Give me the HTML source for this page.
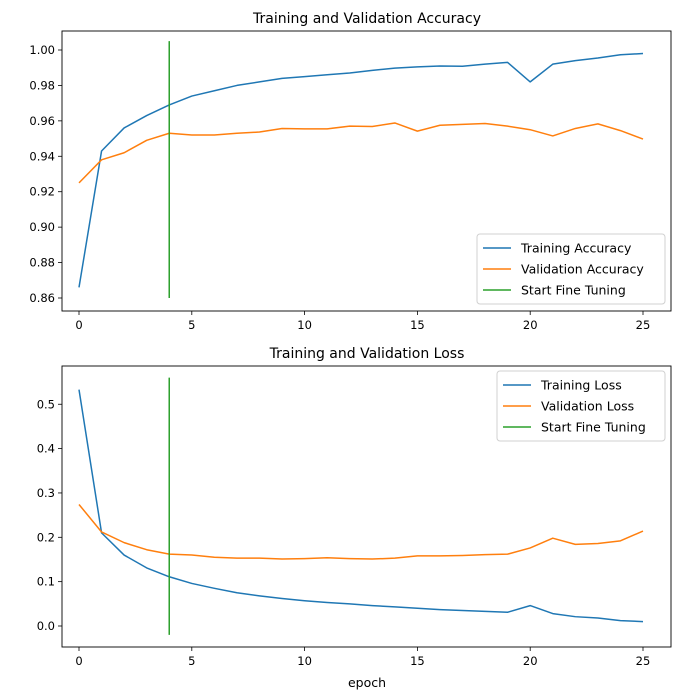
<!DOCTYPE html>
<html><head><meta charset="utf-8"><style>
body{margin:0;background:#fff;}
svg{display:block;font-family:"DejaVu Sans","Liberation Sans",sans-serif;}
</style></head><body>
<svg id="fig" width="680" height="699" viewBox="0 0 680 699"></svg>
<script>
const epochs = [0,1,2,3,4,5,6,7,8,9,10,11,12,13,14,15,16,17,18,19,20,21,22,23,24,25];
const trainAcc = [0.866,0.943,0.956,0.963,0.969,0.974,0.977,0.980,0.982,0.984,0.985,0.986,0.987,0.9885,0.9898,0.9905,0.991,0.9908,0.992,0.993,0.982,0.992,0.994,0.9955,0.9973,0.998];
const valAcc = [0.925,0.938,0.942,0.949,0.953,0.952,0.952,0.953,0.9537,0.9557,0.9555,0.9555,0.957,0.9568,0.9588,0.9542,0.9575,0.958,0.9585,0.957,0.955,0.9515,0.9557,0.9583,0.9545,0.9497];
const trainLoss = [0.533,0.210,0.160,0.131,0.111,0.096,0.085,0.075,0.068,0.062,0.057,0.053,0.050,0.046,0.043,0.040,0.037,0.035,0.033,0.031,0.046,0.028,0.021,0.018,0.012,0.010];
const valLoss = [0.274,0.212,0.188,0.172,0.162,0.160,0.155,0.153,0.153,0.151,0.152,0.154,0.152,0.151,0.153,0.158,0.158,0.159,0.161,0.162,0.176,0.198,0.184,0.186,0.192,0.214];
const xTicks = [0,5,10,15,20,25];
const accTicks = [0.86,0.88,0.90,0.92,0.94,0.96,0.98,1.00];
const lossTicks = [0.0,0.1,0.2,0.3,0.4,0.5];
const fineTuneEpoch = 4;
const accFineRange = [0.86,1.005];
const lossFineRange = [-0.02,0.56];

const NS="http://www.w3.org/2000/svg";
const svg=document.getElementById('fig');
function mk(tag,attrs,parent){const e=document.createElementNS(NS,tag);for(const k in attrs)e.setAttribute(k,attrs[k]);(parent||svg).appendChild(e);return e;}
const xs=v=>79+v*22.56;

function panel(top,bottom,yScale,ticks,fmt,title,s1,s2,n1,n2,fr,leg,name){
  const g=mk('g',{});
  
  
  const series=[[s1,'#1f77b4',n1],[s2,'#ff7f0e',n2]];
  series.forEach(([d,c,n])=>{
    const p=mk('polyline',{points:d.map((v,i)=>xs(epochs[i])+','+yScale(v)).join(' '),fill:'none',stroke:c,'stroke-width':1.5,'stroke-linejoin':'round'},g);
    
    
  });
  const fl=mk('line',{x1:xs(fineTuneEpoch),x2:xs(fineTuneEpoch),y1:yScale(fr[1]),y2:yScale(fr[0]),stroke:'#2ca02c','stroke-width':1.5},g);
  
  
  const fr2=mk('rect',{x:62,y:top,width:609,height:bottom-top,fill:'none',stroke:'#000','stroke-width':0.9},g);
  
  
  xTicks.forEach(t=>{
    mk('line',{x1:xs(t),x2:xs(t),y1:bottom,y2:bottom+4,stroke:'#000','stroke-width':0.8},g);
    const tx=mk('text',{x:xs(t),y:bottom+18,'text-anchor':'middle','font-size':11.5,fill:'#000'},g);
    tx.textContent=t;
    
    
  });
  ticks.forEach(t=>{
    const y=yScale(t);
    mk('line',{x1:58,x2:62,y1:y,y2:y,stroke:'#000','stroke-width':0.8},g);
    const tx=mk('text',{x:55,y:y+4,'text-anchor':'end','font-size':11.5,fill:'#000'},g);
    tx.textContent=fmt(t);
    
    
  });
  const tt=mk('text',{x:367,y:top-8,'text-anchor':'middle','font-size':14,fill:'#000'},g);
  tt.textContent=title;
  
  
  const lg=mk('g',{},g);
  
  
  mk('rect',{x:leg[0],y:leg[1],width:leg[2],height:70,rx:3,fill:'#fff','fill-opacity':0.8,stroke:'#d0d0d0'},lg);
  [[n1,'#1f77b4'],[n2,'#ff7f0e'],['Start Fine Tuning','#2ca02c']].forEach(([n,c],i)=>{
    const y=leg[1]+14+i*21;
    mk('line',{x1:leg[0]+6,x2:leg[0]+34,y1:y,y2:y,stroke:c,'stroke-width':1.5},lg);
    const tx=mk('text',{x:leg[0]+44,y:y+4.5,'font-size':12.5,fill:'#000'},lg);
    tx.textContent=n;
    
    
  });
}
const yAcc=v=>50+(1.0-v)*1771.4;
const yLoss=v=>626-v*443.5;
panel(31,311,yAcc,accTicks,t=>t.toFixed(2),'Training and Validation Accuracy',trainAcc,valAcc,'Training Accuracy','Validation Accuracy',accFineRange,[477,234,188],'accuracy-chart');
panel(366,647,yLoss,lossTicks,t=>t.toFixed(1),'Training and Validation Loss',trainLoss,valLoss,'Training Loss','Validation Loss',lossFineRange,[497,371,168],'loss-chart');
const xl=mk('text',{x:367,y:687,'text-anchor':'middle','font-size':12.5,fill:'#000'});
xl.textContent='epoch';


</script>
</body></html>
